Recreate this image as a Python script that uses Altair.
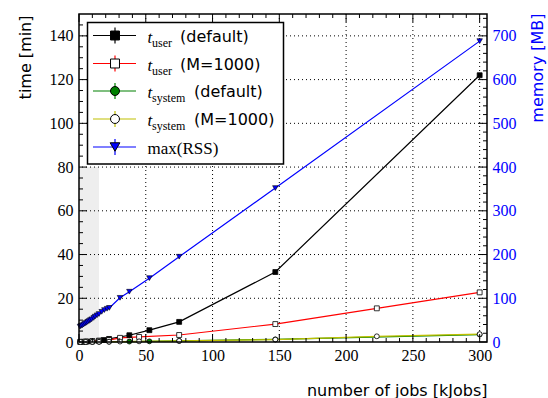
import altair as alt
import pandas as pd

W, H = 408, 328

# ---------------- data ----------------
mem_jobs = [0.75, 1.5, 2.5, 3.5, 4.5, 5.5, 6.5, 7.5, 8.5, 9.5, 11, 12, 13.5, 15, 17, 19, 21, 22.7,
            30.7, 37.7, 52.7, 75, 147, 300]
mem_mb = [35, 37, 38, 40, 42, 44, 46, 48, 50, 52, 55, 58, 61, 64, 69, 73, 76, 78,
          101, 115, 146, 195, 352, 688]

user_def_jobs = [1, 3, 6, 10, 15, 18.5, 22.5, 37.7, 52.7, 75, 147, 300]
user_def_min = [0.05, 0.1, 0.2, 0.35, 0.6, 0.9, 1.4, 3.1, 5.4, 9.2, 32, 122]

user_m_jobs = [1, 5, 10, 15, 22.5, 30.7, 45, 75, 147, 223, 300]
user_m_min = [0.05, 0.2, 0.35, 0.55, 0.9, 1.9, 2.3, 3.2, 8.2, 15.4, 22.7]

sys_def_jobs = [1, 5, 10, 15, 22.5, 37.7, 52.7, 75, 147, 300]
sys_def_min = [0.01, 0.03, 0.05, 0.08, 0.12, 0.2, 0.3, 0.5, 1.2, 3.4]

sys_m_jobs = [1, 5, 10, 15, 22.5, 30.7, 45, 75, 147, 223, 300]
sys_m_min = [0.01, 0.03, 0.05, 0.08, 0.12, 0.2, 0.3, 0.5, 1.1, 2.6, 3.6]

shade_x = [0, 15]
shade_y = [0, 80]

x_major = [0, 50, 100, 150, 200, 250, 300]
x_minor = [v for v in range(10, 305, 10) if v % 50 != 0]
t_major = [0, 20, 40, 60, 80, 100, 120, 140]
t_minor = [v for v in range(5, 150, 5) if v % 20 != 0]
m_major = [0, 100, 200, 300, 400, 500, 600, 700]
m_minor = [v for v in range(20, 750, 20) if v % 100 != 0]

series = ["user_default", "user_M1000", "system_default", "system_M1000"]
s_color = ["black", "#ff0000", "#008000", "#bfbf00"]
s_fill = ["black", "white", "#008000", "white"]
s_shape = ["square", "square", "circle", "circle"]

rows = []
for name, xs_, ys_ in zip(series,
                          [user_def_jobs, user_m_jobs, sys_def_jobs, sys_m_jobs],
                          [user_def_min, user_m_min, sys_def_min, sys_m_min]):
    for a, b in zip(xs_, ys_):
        rows.append({"jobs": a, "minutes": b, "series": name})
tdf = pd.DataFrame(rows)
mdf = pd.DataFrame({"jobs": mem_jobs, "mb": mem_mb})

# ---------------- scales / axes ----------------
def xscale():
    return alt.Scale(domain=[0, 305.5], nice=False, zero=False)

def tscale():
    return alt.Scale(domain=[0, 150], nice=False, zero=False)

def mscale():
    return alt.Scale(domain=[0, 750], nice=False, zero=False)

x_axis = alt.Axis(values=x_major, title="number of jobs [kJobs]", grid=False, ticks=False,
                  domain=False, labelPadding=5, labelFlush=False, orient="bottom",
                  titleAlign="right", titleBaseline="middle", titleX=W, titleY=48)
t_axis = alt.Axis(values=t_major, title="time [min]", grid=False, ticks=False, domain=False,
                  labelPadding=6, labelFlush=False, orient="left",
                  titleAngle=270, titleAlign="right", titleBaseline="middle",
                  titleX=-54, titleY=1)
m_axis = alt.Axis(values=m_major, title="memory [MB]", grid=False, ticks=False, domain=False,
                  labelPadding=5, labelFlush=False, orient="right",
                  labelColor="#0000ff", titleColor="#0000ff",
                  titleAngle=270, titleAlign="right", titleBaseline="middle",
                  titleX=50, titleY=-1)

# ---------------- time layers ----------------
shade = alt.Chart(pd.DataFrame({"x0": [shade_x[0]], "x1": [shade_x[1]],
                                "y0": [shade_y[0]], "y1": [shade_y[1]]})).mark_rect(
    color="#eeeeee").encode(
    x=alt.X("x0:Q", scale=xscale(), axis=None), x2="x1:Q",
    y=alt.Y("y0:Q", scale=tscale(), axis=None), y2="y1:Q")

grid_v = alt.Chart(pd.DataFrame({"v": x_major[1:]})).mark_rule(
    color="black", strokeWidth=1, strokeDash=[1, 3]).encode(
    x=alt.X("v:Q", scale=xscale(), axis=None))
grid_h = alt.Chart(pd.DataFrame({"v": t_major[1:]})).mark_rule(
    color="black", strokeWidth=1, strokeDash=[1, 3]).encode(
    y=alt.Y("v:Q", scale=tscale(), axis=None))

tlines = alt.Chart(tdf).mark_line(strokeWidth=1.2).encode(
    x=alt.X("jobs:Q", scale=xscale(), axis=x_axis),
    y=alt.Y("minutes:Q", scale=tscale(), axis=t_axis),
    color=alt.Color("series:N", scale=alt.Scale(domain=series, range=s_color), legend=None),
    detail="series:N")
tpoints = alt.Chart(tdf).mark_point(filled=True, stroke="black", strokeWidth=0.8,
                                    size=24, opacity=1).encode(
    x=alt.X("jobs:Q", scale=xscale(), axis=None),
    y=alt.Y("minutes:Q", scale=tscale(), axis=None),
    fill=alt.Fill("series:N", scale=alt.Scale(domain=series, range=s_fill), legend=None),
    shape=alt.Shape("series:N", scale=alt.Scale(domain=series, range=s_shape), legend=None))


def xticks(vals, top, length):
    df = pd.DataFrame({"v": vals})
    y0 = 0 if top else H
    y1 = length if top else H - length
    return alt.Chart(df).mark_rule(color="black", strokeWidth=1).encode(
        x=alt.X("v:Q", scale=xscale(), axis=None), y=alt.value(y0), y2=alt.value(y1))


def yticks(vals, scale, right, length):
    df = pd.DataFrame({"v": vals})
    x0 = W if right else 0
    x1 = W - length if right else length
    return alt.Chart(df).mark_rule(color="black", strokeWidth=1).encode(
        y=alt.Y("v:Q", scale=scale, axis=None), x=alt.value(x0), x2=alt.value(x1))


# ---------------- memory layers ----------------
mline = alt.Chart(mdf).mark_line(color="#0000ff", strokeWidth=1.2).encode(
    x=alt.X("jobs:Q", scale=xscale(), axis=None),
    y=alt.Y("mb:Q", scale=mscale(), axis=m_axis))
mpoints = alt.Chart(mdf).mark_point(shape="triangle-down", filled=True, fill="#0000ff",
                                    stroke="black", strokeWidth=0.6, size=30, opacity=1).encode(
    x=alt.X("jobs:Q", scale=xscale(), axis=None),
    y=alt.Y("mb:Q", scale=mscale(), axis=None))

# ---------------- legend (drawn box) ----------------
one = pd.DataFrame({"a": [0]})
leg_layers = [
    alt.Chart(one).mark_rect(fill="white", stroke="black", strokeWidth=1.5).encode(
        x=alt.value(8.5), x2=alt.value(204.5), y=alt.value(8.5), y2=alt.value(150))
]
leg_rows = [21.5, 49.5, 77, 105, 133]
leg_colors = s_color + ["#0000ff"]
leg_fills = s_fill + ["#0000ff"]
leg_shapes = s_shape + ["triangle-down"]
leg_sub = ["user", "user", "system", "system", None]
leg_lab = ["(default)", "(M=1000)", "(default)", "(M=1000)", None]
leg_labx = [101, 101, 115, 115, None]

for i, c in enumerate(leg_rows):
    col = leg_colors[i]
    leg_layers.append(alt.Chart(one).mark_rule(color=col, strokeWidth=1.2).encode(
        x=alt.value(14), x2=alt.value(57), y=alt.value(c)))
    leg_layers.append(alt.Chart(one).mark_rule(color=col, strokeWidth=1.2).encode(
        x=alt.value(36), y=alt.value(c - 8), y2=alt.value(c + 8)))
    leg_layers.append(alt.Chart(one).mark_point(
        shape=leg_shapes[i], filled=True, fill=leg_fills[i], stroke="black",
        strokeWidth=1, size=80 if i < 4 else 95, opacity=1).encode(
        x=alt.value(36), y=alt.value(c)))
    if leg_sub[i] is not None:
        leg_layers.append(alt.Chart(one).mark_text(
            text="t", font="Liberation Serif", fontStyle="italic", fontSize=17,
            align="left", baseline="alphabetic", color="black").encode(
            x=alt.value(68.5), y=alt.value(c + 7)))
        leg_layers.append(alt.Chart(one).mark_text(
            text=leg_sub[i], font="Liberation Serif", fontSize=12,
            align="left", baseline="alphabetic", color="black").encode(
            x=alt.value(73), y=alt.value(c + 11)))
        leg_layers.append(alt.Chart(one).mark_text(
            text=leg_lab[i], font="DejaVu Sans", fontSize=16,
            align="left", baseline="alphabetic", color="black").encode(
            x=alt.value(leg_labx[i]), y=alt.value(c + 6)))
    else:
        leg_layers.append(alt.Chart(one).mark_text(
            text="max(RSS)", font="Liberation Serif", fontSize=17,
            align="left", baseline="alphabetic", color="black").encode(
            x=alt.value(68.5), y=alt.value(c + 6.5)))

frame = alt.Chart(one).mark_rect(fillOpacity=0, stroke="black", strokeWidth=1.5).encode(
    x=alt.value(0), x2=alt.value(W), y=alt.value(0), y2=alt.value(H))

layers = [shade, grid_v, grid_h, tlines, tpoints,
          xticks(x_major, False, 8), xticks(x_minor, False, 4),
          xticks(x_major, True, 8), xticks(x_minor, True, 4),
          yticks(t_major, tscale(), False, 8), yticks(t_minor, tscale(), False, 4),
          mline, mpoints,
          yticks(m_major, mscale(), True, 8), yticks(m_minor, mscale(), True, 4)]
layers += leg_layers
layers.append(frame)

chart = alt.layer(*layers).resolve_scale(
    x="independent", y="independent"
).properties(
    width=W, height=H,
    autosize=alt.AutoSizeParams(type="none"),
    padding={"left": 79, "top": 14, "right": 61, "bottom": 56},
).configure_view(
    strokeWidth=0
).configure_axis(
    labelFont="Liberation Serif", labelFontSize=16, labelColor="black",
    titleFont="DejaVu Sans", titleFontSize=16, titleFontWeight="normal", titleColor="black",
)

chart.save("out.html", embed_options={"renderer": "svg", "actions": False})
